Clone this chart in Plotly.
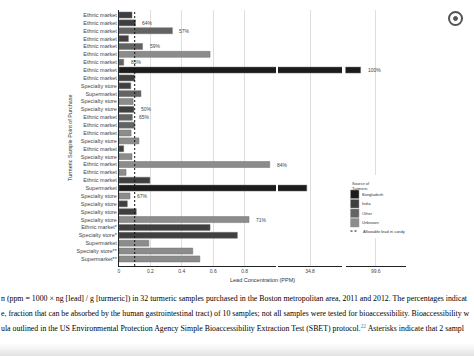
import plotly.graph_objects as go

# ---------------- data ----------------
purchase_points = [
    "Ethnic market", "Ethnic market", "Ethnic market", "Ethnic market", "Ethnic market",
    "Ethnic market", "Ethnic market", "Ethnic market", "Ethnic market", "Specialty store",
    "Supermarket", "Specialty store", "Specialty store", "Ethnic market", "Ethnic market",
    "Ethnic market", "Specialty store", "Ethnic market", "Specialty store", "Ethnic market",
    "Ethnic market", "Ethnic market", "Supermarket", "Specialty store", "Specialty store",
    "Specialty store", "Specialty store", "Ethnic market*", "Specialty store*", "Supermarket",
    "Specialty store**", "Supermarket**",
]
lead_ppm = [
    0.083, 0.105, 0.34, 0.06, 0.15,
    0.58, 0.03, 99.40, 0.10, 0.075,
    0.14, 0.09, 0.095, 0.085, 0.10,
    0.077, 0.127, 0.03, 0.083, 0.96,
    0.045, 0.197, 34.76, 0.07, 0.053,
    0.11, 0.828, 0.58, 0.754, 0.19,
    0.47, 0.515,
]
turmeric_source = [
    "India", "India", "Other", "India", "Other",
    "Unknown", "Other", "Bangladesh", "India", "India",
    "Other", "Unknown", "India", "Other", "Other",
    "Unknown", "Unknown", "India", "Unknown", "Unknown",
    "Unknown", "India", "Bangladesh", "Unknown", "India",
    "India", "Unknown", "India", "India", "Unknown",
    "Unknown", "Unknown",
]
bioaccessibility = [
    "", "64%", "57%", "", "59%",
    "", "83%", "100%", "", "",
    "", "", "50%", "65%", "",
    "", "", "", "", "84%",
    "", "", "", "67%", "",
    "", "71%", "", "", "",
    "", "",
]
source_names = ["Bangladesh", "India", "Other", "Unknown"]
source_colors = ["#1c1c1c", "#3f3f3f", "#636363", "#8c8c8c"]
candy_limit_ppm = 0.1
candy_label = "Allowable lead in candy"
segment_ranges = [[0, 1.0], [34.4, 35.2], [99.2, 100.0]]
segment_ticks = [[0, 0.2, 0.4, 0.6, 0.8], [34.8], [99.6]]
x_title = "Lead Concentration (PPM)"
y_title = "Turmeric Sample Point of Purchase"
legend_title = "Source of<br>Turmeric"
caption_lines = [
    "n (ppm = 1000 × ng [lead] / g [turmeric]) in 32 turmeric samples purchased in the Boston metropolitan area, 2011 and 2012. The percentages indicat",
    "e, fraction that can be absorbed by the human gastrointestinal tract) of 10 samples; not all samples were tested for bioaccessibility. Bioaccessibility w",
    "ula outlined in the US Environmental Protection Agency Simple Bioaccessibility Extraction Test (SBET) protocol.<sup><span style='color:#4a7fc0'>22</span></sup> Asterisks indicate that 2 sampl",
]

# ---------------- layout helpers ----------------
W, H = 474, 356
L, R, T, B = 119, 406, 10, 266


def px_x(px):
    return (px - L) / (R - L)


def px_y(py):
    return (B - py) / (B - T)


rows = list(range(1, len(purchase_points) + 1))
color_map = dict(zip(source_names, source_colors))
bar_colors = [color_map[s] for s in turmeric_source]

fig = go.Figure()
axis_ids = ["x", "x2", "x3"]
domains = [[0, px_x(276)], [px_x(278), px_x(342)], [px_x(345.5), 1.0]]

for ax in axis_ids:
    fig.add_trace(go.Bar(
        y=rows, x=lead_ppm, orientation="h", xaxis=ax, yaxis="y",
        marker=dict(color=bar_colors, line=dict(color="#707070", width=0.5)),
        width=0.76, showlegend=False,
    ))

font_main = "Liberation Sans, Arial, sans-serif"
layout_axes = {}
for i, (ax, rng, ticks, dom) in enumerate(zip(axis_ids, segment_ranges, segment_ticks, domains)):
    span = rng[1] - rng[0]
    eps = span * 0.004
    tv = ([rng[0] + eps] if i > 0 else []) + list(ticks) + [rng[1] - eps]
    tt = ([" "] if i > 0 else []) + [f"{t:g}" for t in ticks] + [" "]
    name = "xaxis" if i == 0 else f"xaxis{i + 1}"
    layout_axes[name] = dict(
        domain=dom, range=rng, anchor="y", tickvals=tv, ticktext=tt,
        showgrid=True, gridcolor="#dedede", gridwidth=1,
        showline=True, linecolor="#222", linewidth=1, zeroline=False,
        ticks="", tickfont=dict(size=5, color="#444", family=font_main),
        fixedrange=True, automargin=False,
    )

fig.update_layout(
    width=W, height=H,
    margin=dict(l=L, r=W - R, t=T, b=H - B, pad=0),
    paper_bgcolor="white", plot_bgcolor="white",
    font=dict(family=font_main, color="#333"),
    bargap=0.2,
    yaxis=dict(
        range=[32.9, 0.365], tickvals=rows, ticktext=purchase_points,
        showline=True, linecolor="#222", linewidth=1, showgrid=False, zeroline=False,
        ticks="", tickfont=dict(size=5.5, color="#444", family=font_main), fixedrange=True,
        automargin=False,
    ),
    **layout_axes,
)

# allowable lead in candy (dashed)
fig.add_shape(type="line", xref="x", yref="y domain", x0=candy_limit_ppm, x1=candy_limit_ppm,
              y0=0, y1=1, line=dict(color="#111", width=1, dash="2px,2px"), layer="above")

# bioaccessibility labels
for r, v, lab in zip(rows, lead_ppm, bioaccessibility):
    if not lab:
        continue
    ax = "x"
    for i, rng in enumerate(segment_ranges):
        if v >= rng[0]:
            ax = axis_ids[i]
    fig.add_annotation(x=v, y=r, xref=ax, yref="y", text=lab, showarrow=False,
                       xanchor="left", yanchor="middle", xshift=5,
                       font=dict(size=5, color="#444", family=font_main))

# axis titles
fig.add_annotation(x=0.5, y=px_y(280), xref="paper", yref="paper", text=x_title,
                   showarrow=False, xanchor="center", yanchor="middle",
                   font=dict(size=5.5, color="#333", family=font_main))
fig.add_annotation(x=px_x(70), y=0.5, xref="paper", yref="paper", text=y_title,
                   showarrow=False, textangle=-90, xanchor="center", yanchor="middle",
                   font=dict(size=5.5, color="#333", family=font_main))

# legend (manual, compact)
fig.add_shape(type="rect", xref="paper", yref="paper", x0=px_x(348), x1=px_x(404),
              y0=px_y(238), y1=px_y(175), fillcolor="white", line=dict(width=0), layer="above")
fig.add_annotation(x=px_x(350), y=px_y(178.5), xref="paper", yref="paper", text=legend_title,
                   showarrow=False, xanchor="left", yanchor="top", align="left",
                   font=dict(size=4, color="#333", family=font_main))
box_tops = [190, 199.5, 209, 218.5]
for name, col, top in zip(source_names, source_colors, box_tops):
    fig.add_shape(type="rect", xref="paper", yref="paper", x0=px_x(350.5), x1=px_x(359),
                  y0=px_y(top + 8.5), y1=px_y(top), fillcolor=col,
                  line=dict(color="#9a9a9a", width=0.5), layer="above")
    fig.add_annotation(x=px_x(360), y=px_y(top + 4.3), xref="paper", yref="paper", text=name,
                       showarrow=False, xanchor="left", yanchor="middle",
                       font=dict(size=4, color="#333", family=font_main))
fig.add_shape(type="line", xref="paper", yref="paper", x0=px_x(350.5), x1=px_x(358.5),
              y0=px_y(231), y1=px_y(231), line=dict(color="#111", width=1, dash="2px,2px"),
              layer="above")
fig.add_annotation(x=px_x(360.5), y=px_y(231), xref="paper", yref="paper", text=candy_label,
                   showarrow=False, xanchor="left", yanchor="middle",
                   font=dict(size=4, color="#333", family=font_main))

# caption text of the page
for k, line in enumerate(caption_lines):
    fig.add_annotation(x=px_x(-1), y=px_y(298 + 15 * k), xref="paper", yref="paper", text=line,
                       showarrow=False, xanchor="left", yanchor="middle", align="left",
                       font=dict(size=7.85, color="#000000", family="Liberation Serif, Times New Roman, serif"))

# page icon (top right)
fig.add_shape(type="circle", xref="paper", yref="paper",
              x0=px_x(449), x1=px_x(462), y0=px_y(25), y1=px_y(12),
              line=dict(color="#555", width=2), fillcolor="white", layer="above")
fig.add_shape(type="circle", xref="paper", yref="paper",
              x0=px_x(453.5), x1=px_x(457.5), y0=px_y(20.5), y1=px_y(16.5),
              line=dict(color="#555", width=1), fillcolor="#555", layer="above")

# bottom shadow of the page
greys = ["#fbfbfb", "#f6f6f6", "#f0f0f0", "#eaeaea", "#e4e4e4"]
for j, g in enumerate(greys):
    fig.add_shape(type="rect", xref="paper", yref="paper", x0=px_x(0), x1=px_x(W),
                  y0=px_y(H), y1=px_y(344 + j * 2.4), fillcolor=g, line=dict(width=0), layer="above")

fig.write_html("out.html", config={"displayModeBar": False},
               post_script="document.body.style.margin='0';document.body.style.overflow='hidden';")
